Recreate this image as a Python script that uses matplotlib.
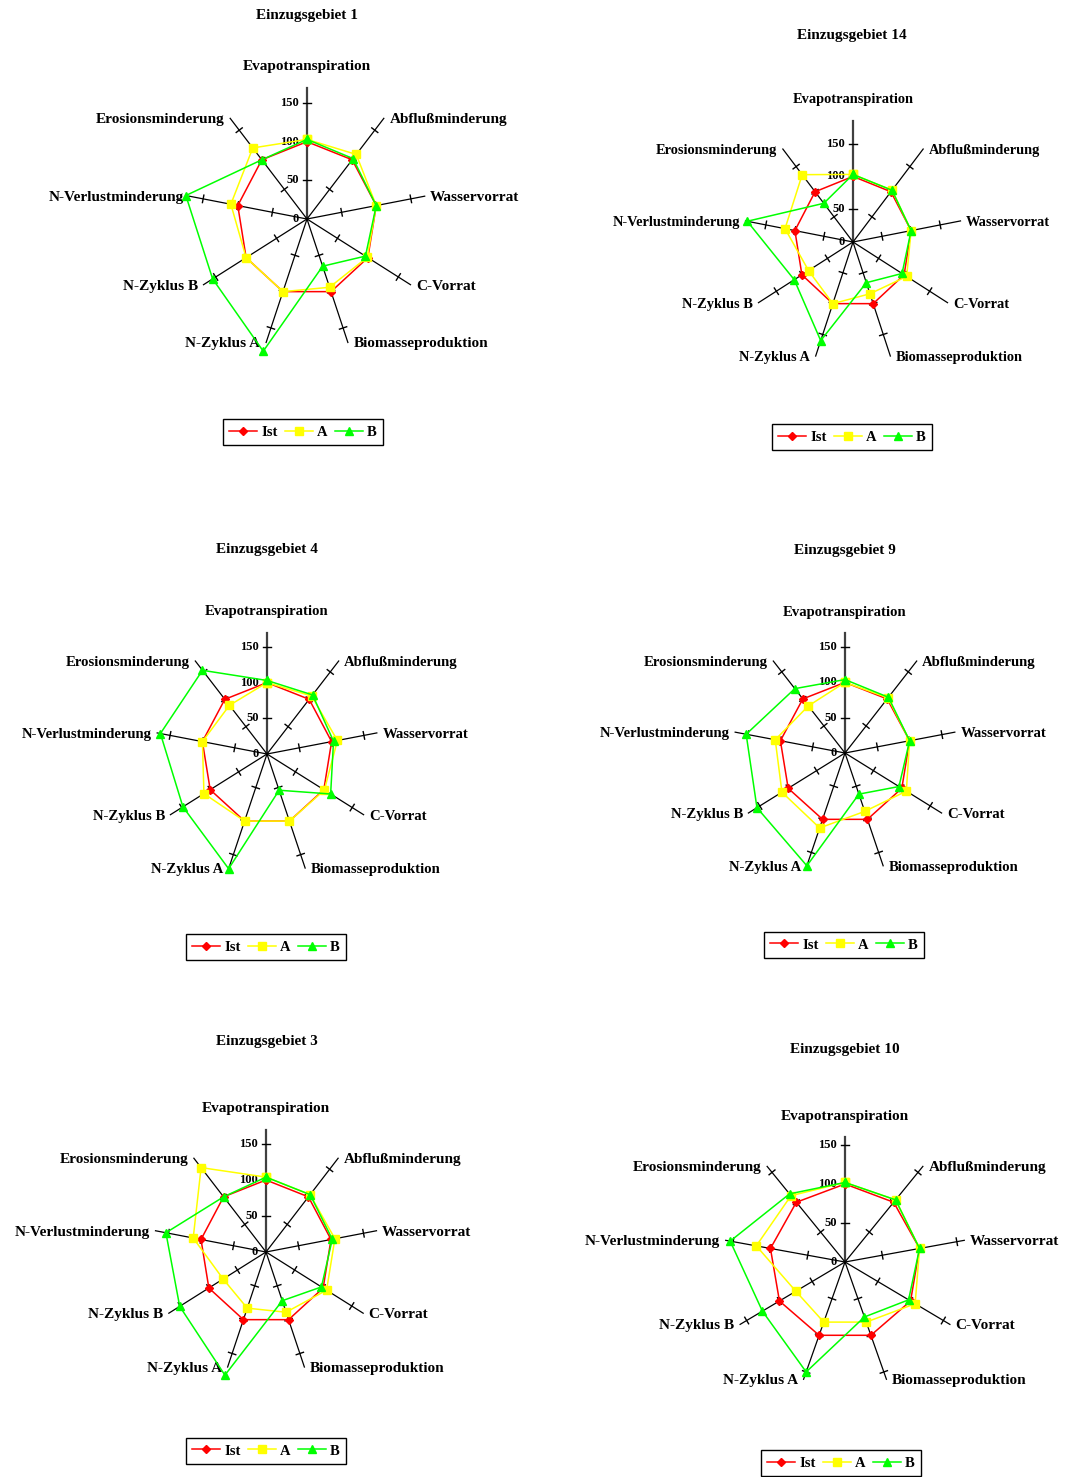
import numpy as np
import matplotlib.pyplot as plt

plt.rcParams['font.family'] = ['Liberation Serif', 'DejaVu Serif']
plt.rcParams['font.weight'] = 'bold'

categories = ['Evapotranspiration', 'Abflußminderung', 'Wasservorrat', 'C-Vorrat',
              'Biomasseproduktion', 'N-Zyklus A', 'N-Zyklus B',
              'N-Verlustminderung', 'Erosionsminderung']
series_names = ['Ist', 'A', 'B']
rticks = [0, 50, 100, 150]

titles = ['Einzugsgebiet 1', 'Einzugsgebiet 14', 'Einzugsgebiet 4',
          'Einzugsgebiet 9', 'Einzugsgebiet 3', 'Einzugsgebiet 10']

# Ist is the reference state (100 on every axis)
ist = [100, 100, 100, 100, 100, 100, 100, 100, 100]

a_1 = [103, 109, 100, 99, 94, 100, 100, 110, 120]
b_1 = [103, 102, 100, 96, 65, 182, 155, 175, 100]
a_14 = [103, 103, 100, 105, 84, 100, 87, 117, 134]
b_14 = [103, 103, 100, 96, 66, 160, 115, 182, 77]
a_4 = [100, 106, 109, 101, 100, 100, 111, 100, 89]
b_4 = [103, 108, 103, 112, 54, 171, 148, 165, 153]
a_9 = [100, 102, 100, 108, 88, 113, 111, 108, 87]
b_9 = [104, 103, 100, 95, 62, 170, 155, 153, 119]
a_3 = [104, 104, 106, 106, 89, 83, 75, 112, 153]
b_3 = [104, 104, 102, 97, 72, 182, 151, 154, 100]
a_10 = [102, 104, 100, 107, 82, 82, 75, 119, 111]
b_10 = [102, 104, 100, 97, 75, 150, 126, 154, 114]

a_all = [a_1, a_14, a_4, a_9, a_3, a_10]
b_all = [b_1, b_14, b_4, b_9, b_3, b_10]

FW, FH = 1069, 1477

# layout per chart in pixels: centre, px per unit (x, y), axis max,
# title position, legend centre, label font size
layout = [
    dict(c=(307, 219), s=(0.703, 0.773), rmax=170, title=(307, 15), leg=(303, 432), fs=11),
    dict(c=(853, 242), s=(0.590, 0.656), rmax=185, title=(852, 35), leg=(852, 437), fs=10.4),
    dict(c=(267, 754), s=(0.656, 0.714), rmax=170, title=(267, 550), leg=(266, 947), fs=10.6),
    dict(c=(845, 753), s=(0.656, 0.706), rmax=170, title=(845, 551), leg=(844, 945), fs=10.6),
    dict(c=(266, 1252), s=(0.660, 0.720), rmax=170, title=(267, 1042), leg=(266, 1451), fs=11),
    dict(c=(845, 1262), s=(0.757, 0.780), rmax=160, title=(845, 1049), leg=(841, 1463), fs=11),
]

colors = ['#FF0000', '#FFFF00', '#00FF00']
markers = ['D', 's', '^']
msizes = [4.5, 6, 6]

angles = np.deg2rad(90 - 40 * np.arange(len(categories)))

fig = plt.figure(figsize=(FW / 100, FH / 100), dpi=100)

for k, cfg in enumerate(layout):
    cx, cy = cfg['c']
    sx, sy = cfg['s']
    rmax = cfg['rmax']
    W, H = 560, 440
    ax = fig.add_axes([(cx - W / 2) / FW, (FH - cy - H / 2) / FH, W / FW, H / FH])
    ax.set_xlim(-W / 2 / sx, W / 2 / sx)
    ax.set_ylim(-H / 2 / sy, H / 2 / sy)
    ax.axis('off')
    ax.patch.set_alpha(0)

    # spokes with cross ticks
    for i, ang in enumerate(angles):
        c, s = np.cos(ang), np.sin(ang)
        if i == 0:
            ax.plot([0, 0], [0, rmax], color='#404040', lw=1.6, zorder=1)
        else:
            ax.plot([0, rmax * c], [0, rmax * s], color='black', lw=0.9, zorder=1)
        d = np.array([c * sx, s * sy])
        d = d / np.hypot(*d)
        p = np.array([-d[1], d[0]])
        for t in rticks[1:]:
            hx, hy = p[0] * 3.8 / sx, p[1] * 3.8 / sy
            ax.plot([t * c - hx, t * c + hx], [t * s - hy, t * s + hy],
                    color='black', lw=1.0, zorder=1)

        if i == 0:
            ax.annotate(categories[i], xy=(0, rmax), xytext=(0, 15),
                        textcoords='offset points', ha='center', va='center',
                        fontsize=cfg['fs'], fontweight='bold')
        else:
            ha = 'left' if c > 0.01 else 'right'
            ax.annotate(categories[i], xy=(rmax * c, rmax * s),
                        xytext=(4 if ha == 'left' else -4, -1),
                        textcoords='offset points', ha=ha, va='center',
                        fontsize=cfg['fs'], fontweight='bold')

    for t in rticks:
        ax.annotate(str(t), xy=(0, t), xytext=(-6, 0), textcoords='offset points',
                    ha='right', va='center', fontsize=9, fontweight='bold')

    handles = []
    for j, vals in enumerate([ist, a_all[k], b_all[k]]):
        xs = [v * np.cos(a) for v, a in zip(vals, angles)]
        ys = [v * np.sin(a) for v, a in zip(vals, angles)]
        xs.append(xs[0])
        ys.append(ys[0])
        h, = ax.plot(xs, ys, color=colors[j], lw=1.1, marker=markers[j],
                     ms=msizes[j], mec=colors[j], mfc=colors[j], zorder=3 + j,
                     clip_on=False)
        handles.append(h)

    tx, ty = cfg['title']
    fig.text(tx / FW, 1 - ty / FH, titles[k], ha='center', va='center',
             fontsize=11, fontweight='bold')

    lx, ly = cfg['leg']
    leg = ax.legend(handles, series_names, loc='center',
                    bbox_to_anchor=(lx / FW, 1 - ly / FH),
                    bbox_transform=fig.transFigure, ncol=3, fancybox=False,
                    edgecolor='black', framealpha=1, handlelength=1.9,
                    handletextpad=0.3, columnspacing=0.5, borderpad=0.45,
                    prop={'weight': 'bold', 'size': 10.5})
    leg.get_frame().set_linewidth(1.0)

fig.savefig('out.png', dpi=100)
